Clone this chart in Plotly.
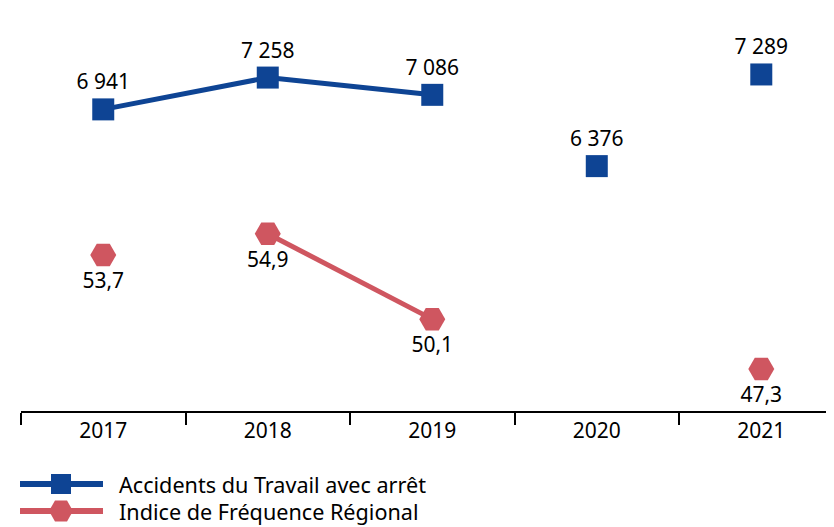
import plotly.graph_objects as go

years = ["2017", "2018", "2019", "2020", "2021"]
accidents = [6941, 7258, 7086, 6376, 7289]
indice = [53.7, 54.9, 50.1, None, 47.3]
accidents_connected = [True, True, True, False, False]
indice_connected = [False, True, True, False, False]
series_names = ["Accidents du Travail avec arrêt", "Indice de Fréquence Régional"]

BLUE = "#0E4494"
RED = "#CF5660"
FONT = "Noto Sans"
OFF = 8  # page body margin
W, H = 834 - OFF, 527 - OFF

acc_text = [f"{v:,}".replace(",", " ") for v in accidents]
ind_text = ["" if v is None else f"{v:.1f}".replace(".", ",") for v in indice]
acc_line = [v if c else None for v, c in zip(accidents, accidents_connected)]
ind_line = [v if c else None for v, c in zip(indice, indice_connected)]

fig = go.Figure()
fig.add_trace(go.Scatter(x=years, y=acc_line, mode="lines", line=dict(color=BLUE, width=5),
                         yaxis="y", hoverinfo="skip", showlegend=False))
fig.add_trace(go.Scatter(x=years, y=accidents, mode="markers+text", text=acc_text,
                         textposition="top center",
                         textfont=dict(family=FONT, size=21, color="black"),
                         marker=dict(symbol="square", size=22, color=BLUE),
                         yaxis="y", name=series_names[0], showlegend=False, cliponaxis=False))
fig.add_trace(go.Scatter(x=years, y=ind_line, mode="lines", line=dict(color=RED, width=5),
                         yaxis="y2", hoverinfo="skip", showlegend=False))
fig.add_trace(go.Scatter(x=years, y=indice, mode="markers+text", text=ind_text,
                         textposition="bottom center",
                         textfont=dict(family=FONT, size=21, color="black"),
                         marker=dict(symbol="hexagon2", size=26, color=RED),
                         yaxis="y2", name=series_names[1], showlegend=False, cliponaxis=False))

# custom legend on a pixel-mapped overlay axis (reference-page pixel coordinates)
leg_y = [484, 511]
leg_colors = [BLUE, RED]
leg_symbols = ["square", "hexagon2"]
leg_sizes = [20, 24]
for i in range(2):
    fig.add_trace(go.Scatter(x=[20, 103], y=[leg_y[i], leg_y[i]], mode="lines",
                             line=dict(color=leg_colors[i], width=6),
                             xaxis="x2", yaxis="y3", hoverinfo="skip", showlegend=False))
    fig.add_trace(go.Scatter(x=[61], y=[leg_y[i]], mode="markers",
                             marker=dict(symbol=leg_symbols[i], size=leg_sizes[i], color=leg_colors[i]),
                             xaxis="x2", yaxis="y3", hoverinfo="skip", showlegend=False,
                             cliponaxis=False))
    fig.add_annotation(x=118, y=leg_y[i], xref="x2", yref="y3", text=series_names[i],
                       showarrow=False, xanchor="left", yanchor="middle", borderpad=0,
                       font=dict(family=FONT, size=21.6, color="black"))

plot_left = 21 - OFF
plot_bottom = 411 - OFF
fig.update_layout(
    width=W, height=H,
    margin=dict(l=0, r=0, t=0, b=0),
    paper_bgcolor="white", plot_bgcolor="rgba(0,0,0,0)",
    font=dict(family=FONT, size=21, color="black"),
    xaxis=dict(domain=[plot_left / W, 1], type="category", range=[-0.5, 4.442],
               showline=True, linecolor="black", linewidth=2,
               ticks="outside", ticklen=12, tickwidth=2, tickcolor="black",
               tickson="boundaries", showgrid=False, zeroline=False,
               tickfont=dict(family=FONT, size=21, color="black"), fixedrange=True),
    yaxis=dict(domain=[1 - plot_bottom / H, 1], range=[3857 + 8 / 0.1004, 7951],
               visible=False, fixedrange=True),
    yaxis2=dict(domain=[1 - plot_bottom / H, 1], range=[44.49 + 8 / 17.8, 67.58],
                overlaying="y", visible=False, fixedrange=True),
    xaxis2=dict(domain=[0, 1], range=[OFF, OFF + W], visible=False, anchor="y3", fixedrange=True),
    yaxis3=dict(domain=[0, 1], range=[OFF + H, OFF], visible=False, anchor="x2", fixedrange=True),
)

fig.write_html("out.html")
